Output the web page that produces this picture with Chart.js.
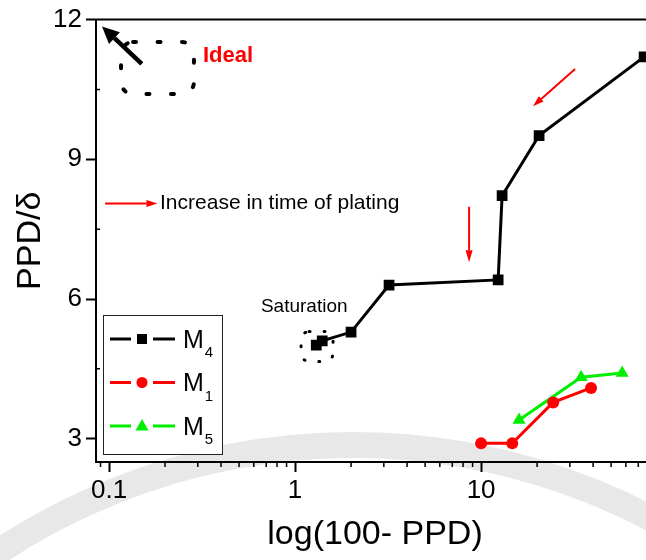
<!DOCTYPE html>
<html>
<head>
    <meta charset="utf-8" />
    <title>PPD/δ vs log(100- PPD)</title>
    <script src="https://cdn.jsdelivr.net/npm/chart.js@4.4.1/dist/chart.umd.min.js"></script>
    <style>
        html, body {
            margin: 0;
            padding: 0;
            background: #fff;
            overflow: hidden;
        }

        #chartContainer {
            width: 680px;   /* plot runs a little past the window on the right */
            height: 560px;
        }
    </style>
</head>
<body>
    <div id="chartContainer">
        <canvas id="myChart" width="680" height="560"></canvas>
    </div>

    <script>
        // series values (x = 100 - PPD, y = PPD/δ)
        const m4X = [1.30, 1.40, 2.0, 3.2, 12.35, 12.97, 20.5, 75.2];
        const m4Y = [5.01, 5.10, 5.29, 6.30, 6.41, 8.22, 9.51, 11.20];
        const m1X = [10.0, 14.7, 24.4, 39.0];
        const m1Y = [2.90, 2.90, 3.78, 4.09];
        const m5X = [16.0, 34.5, 57.3];
        const m5Y = [3.40, 4.32, 4.41];

        const seriesNames = ['M', 'M', 'M'];
        const seriesSubs = ['4', '1', '5'];

        const xTickValues = [0.1, 1, 10];
        const yTickValues = [3, 6, 9, 12];
        const yMinorTicks = [4.5, 7.5, 10.5];

        const FONT = "'Liberation Sans', Arial, sans-serif";

        const toPoints = (xs, ys) => xs.map((x, i) => ({ x: x, y: ys[i] }));

        function drawArrow(ctx, x1, y1, x2, y2, color, lw, hl, hw) {
            const a = Math.atan2(y2 - y1, x2 - x1);
            const bx = x2 - hl * Math.cos(a), by = y2 - hl * Math.sin(a);
            ctx.strokeStyle = color;
            ctx.lineWidth = lw;
            ctx.lineCap = 'butt';
            ctx.setLineDash([]);
            ctx.beginPath();
            ctx.moveTo(x1, y1);
            ctx.lineTo(bx, by);
            ctx.stroke();
            ctx.fillStyle = color;
            ctx.beginPath();
            ctx.moveTo(x2, y2);
            ctx.lineTo(bx + hw / 2 * Math.sin(a), by - hw / 2 * Math.cos(a));
            ctx.lineTo(bx - hw / 2 * Math.sin(a), by + hw / 2 * Math.cos(a));
            ctx.closePath();
            ctx.fill();
        }

        function dottedBox(ctx, x1, y1, x2, y2, r, lw, dash) {
            ctx.strokeStyle = '#000';
            ctx.lineWidth = lw;
            ctx.lineCap = 'round';
            ctx.setLineDash(dash);
            ctx.beginPath();
            ctx.roundRect(x1, y1, x2 - x1, y2 - y1, r);
            ctx.stroke();
            ctx.setLineDash([]);
        }

        function marker(ctx, style, x, y, color) {
            ctx.fillStyle = color;
            ctx.beginPath();
            if (style === 'rect') {
                ctx.rect(x - 5, y - 5, 10, 10);
            } else if (style === 'circle') {
                ctx.arc(x, y, 5.5, 0, Math.PI * 2);
            } else {
                ctx.moveTo(x, y - 7);
                ctx.lineTo(x + 6.5, y + 4.5);
                ctx.lineTo(x - 6.5, y + 4.5);
                ctx.closePath();
            }
            ctx.fill();
        }

        const decor = {
            id: 'decor',
            beforeDraw(chart) {
                const ctx = chart.ctx;
                ctx.save();
                ctx.fillStyle = '#fff';
                ctx.fillRect(0, 0, chart.width, chart.height);
                // faint watermark band
                ctx.strokeStyle = 'rgba(0,0,0,0.09)';
                ctx.lineWidth = 26;
                ctx.beginPath();
                ctx.arc(353, 1087, 642, Math.PI * 1.25, Math.PI * 1.72);
                ctx.stroke();
                ctx.restore();
            },
            afterDatasetsDraw(chart) {
                const ctx = chart.ctx;
                const px = v => chart.scales.x.getPixelForValue(v);
                const py = v => chart.scales.y.getPixelForValue(v);
                ctx.save();

                // "Ideal" corner
                dottedBox(ctx, px(0.116), py(11.52), px(0.286), py(10.40), 12, 4, [3, 21.5]);
                drawArrow(ctx, px(0.150), py(11.05), px(0.0917), py(11.85), '#000', 4.5, 17, 16);
                ctx.fillStyle = '#ff0000';
                ctx.font = 'bold 22px ' + FONT;
                ctx.textBaseline = 'middle';
                ctx.textAlign = 'left';
                ctx.fillText('Ideal', px(0.32), py(11.22));

                // plating time note
                drawArrow(ctx, px(0.0952), py(8.05), px(0.182), py(8.05), '#ff0000', 2, 11, 7);
                ctx.fillStyle = '#000';
                ctx.font = '21px ' + FONT;
                ctx.fillText('Increase in time of plating', px(0.188), py(8.05));

                drawArrow(ctx, px(32.0), py(10.94), px(19.0), py(10.14), '#ff0000', 2, 11, 7);
                drawArrow(ctx, px(8.62), py(7.98), px(8.62), py(6.79), '#ff0000', 2, 12, 7);

                // saturation
                ctx.fillStyle = '#000';
                ctx.font = '19px ' + FONT;
                ctx.textAlign = 'center';
                ctx.fillText('Saturation', px(1.12), py(5.84));
                dottedBox(ctx, px(1.077), py(5.30), px(1.60), py(4.66), 8, 3, [1, 14]);

                ctx.restore();
            },
            afterDraw(chart) {
                const ctx = chart.ctx;
                const area = chart.chartArea;
                const xs = chart.scales.x, ys = chart.scales.y;
                ctx.save();

                // top frame line
                ctx.strokeStyle = '#000';
                ctx.lineWidth = 2;
                ctx.beginPath();
                ctx.moveTo(area.left - 1, area.top);
                ctx.lineTo(area.right, area.top);
                ctx.stroke();

                // minor ticks
                ctx.lineWidth = 1.5;
                ctx.beginPath();
                [0.01, 0.1, 1, 10].forEach(d => {
                    for (let k = 2; k <= 9; k++) {
                        const v = k * d;
                        if (v < xs.min || v > xs.max) continue;
                        const x = xs.getPixelForValue(v);
                        ctx.moveTo(x, area.bottom);
                        ctx.lineTo(x, area.bottom + 5);
                    }
                });
                yMinorTicks.forEach(v => {
                    const y = ys.getPixelForValue(v);
                    ctx.moveTo(area.left, y);
                    ctx.lineTo(area.left + 4, y);
                });
                ctx.stroke();

                // legend box
                const lx = area.left + 7, ly = 315, lw = 119, lh = 139;
                ctx.fillStyle = '#fff';
                ctx.fillRect(lx, ly, lw, lh);
                ctx.strokeStyle = '#222';
                ctx.lineWidth = 1;
                ctx.strokeRect(lx + 0.5, ly + 0.5, lw, lh);

                chart.data.datasets.forEach((ds, i) => {
                    const cy = ly + 24 + i * 43.5;
                    const mx = lx + 39;
                    ctx.strokeStyle = ds.borderColor;
                    ctx.lineWidth = 3;
                    ctx.beginPath();
                    ctx.moveTo(lx + 7, cy);
                    ctx.lineTo(mx - 11, cy);
                    ctx.moveTo(mx + 11, cy);
                    ctx.lineTo(lx + 72, cy);
                    ctx.stroke();
                    marker(ctx, ds.pointStyle, mx, cy, ds.backgroundColor);

                    ctx.fillStyle = '#000';
                    ctx.textAlign = 'left';
                    ctx.textBaseline = 'alphabetic';
                    ctx.font = '25px ' + FONT;
                    ctx.fillText(seriesNames[i], lx + 80, cy + 8.5);
                    const mw = ctx.measureText(seriesNames[i]).width;
                    ctx.font = '15px ' + FONT;
                    ctx.fillText(seriesSubs[i], lx + 80 + mw + 1, cy + 18);
                });

                ctx.restore();
            }
        };

        const config = {
            type: 'scatter',
            data: {
                datasets: [
                    {
                        label: 'M4',
                        data: toPoints(m4X, m4Y),
                        showLine: true,
                        borderColor: '#000000',
                        backgroundColor: '#000000',
                        borderWidth: 3,
                        pointStyle: 'rect',
                        pointRadius: 7.6,
                        pointBorderWidth: 0
                    },
                    {
                        label: 'M1',
                        data: toPoints(m1X, m1Y),
                        showLine: true,
                        borderColor: '#ff0000',
                        backgroundColor: '#ff0000',
                        borderWidth: 3,
                        pointStyle: 'circle',
                        pointRadius: 6,
                        pointBorderWidth: 0
                    },
                    {
                        label: 'M5',
                        data: toPoints(m5X, m5Y),
                        showLine: true,
                        borderColor: '#00ee00',
                        backgroundColor: '#00ee00',
                        borderWidth: 3,
                        pointStyle: 'triangle',
                        pointRadius: 7.5,
                        pointBorderWidth: 0
                    }
                ]
            },
            options: {
                responsive: false,
                maintainAspectRatio: false,
                animation: false,
                layout: { padding: { top: 19, right: 26, bottom: 0, left: 0 } },
                scales: {
                    x: {
                        type: 'logarithmic',
                        position: 'bottom',
                        min: 0.0851,
                        max: 85,
                        afterBuildTicks: s => { s.ticks = xTickValues.map(v => ({ value: v })); },
                        afterFit: s => { s.height = 98; },
                        ticks: {
                            callback: v => String(v),
                            autoSkip: false,
                            maxRotation: 0,
                            color: '#000',
                            padding: 3,
                            font: { family: FONT, size: 26 }
                        },
                        grid: {
                            display: true,
                            drawOnChartArea: false,
                            drawTicks: true,
                            tickLength: 10,
                            tickWidth: 2,
                            tickColor: '#000'
                        },
                        border: { display: true, color: '#000', width: 2 },
                        title: {
                            display: true,
                            text: 'log(100- PPD)',
                            color: '#000',
                            font: { family: FONT, size: 34 },
                            padding: { top: 0, bottom: 5 }
                        }
                    },
                    y: {
                        type: 'linear',
                        min: 2.5,
                        max: 12,
                        afterBuildTicks: s => { s.ticks = yTickValues.map(v => ({ value: v })); },
                        afterFit: s => { s.width = 96; },
                        ticks: {
                            color: '#000',
                            padding: 4,
                            font: { family: FONT, size: 26 }
                        },
                        grid: {
                            display: true,
                            drawOnChartArea: false,
                            drawTicks: true,
                            tickLength: 10,
                            tickWidth: 2,
                            tickColor: '#000'
                        },
                        border: { display: true, color: '#000', width: 2 },
                        title: {
                            display: true,
                            text: 'PPD/δ',
                            color: '#000',
                            font: { family: FONT, size: 34 },
                            padding: { top: 10, bottom: 0 }
                        }
                    }
                },
                plugins: {
                    legend: { display: false },
                    tooltip: { enabled: false }
                }
            },
            plugins: [decor]
        };

        const ctx = document.getElementById('myChart').getContext('2d');
        const myChart = new Chart(ctx, config);
    </script>
</body>
</html>
